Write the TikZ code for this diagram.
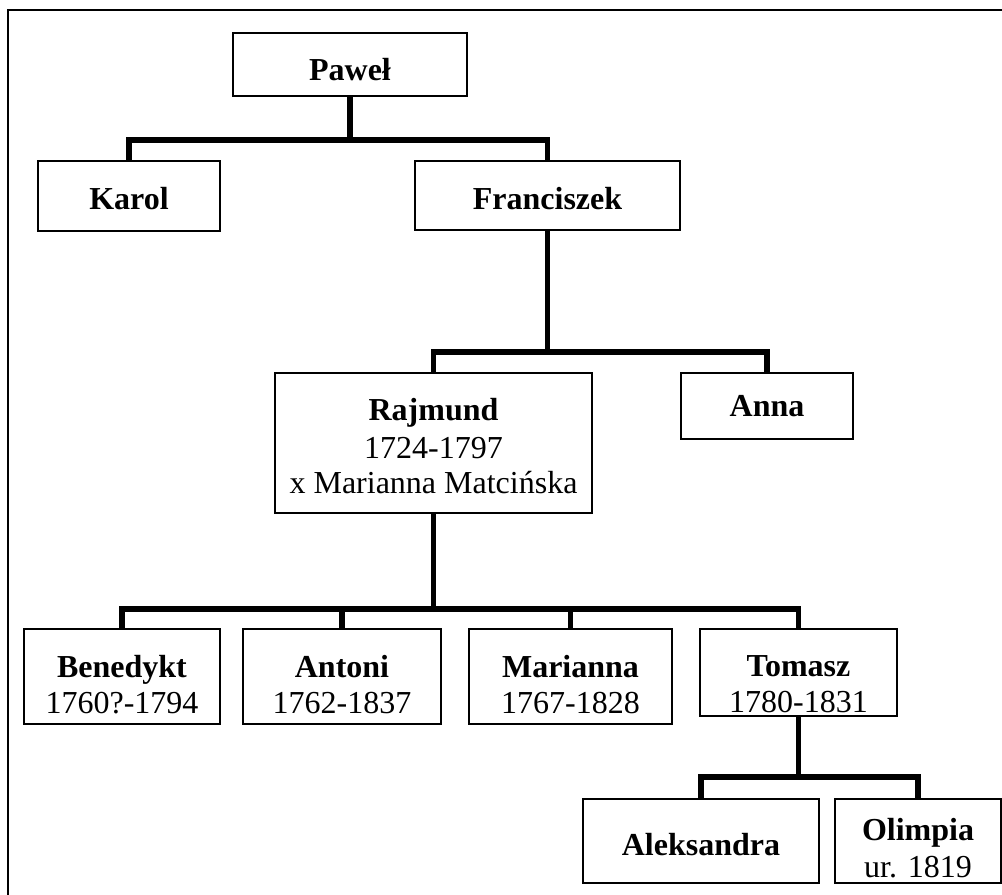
\documentclass[tikz,border=0pt]{standalone}
\usepackage{fontspec}
\setmainfont{Liberation Serif}
\begin{document}
\begin{tikzpicture}[x=0.75pt,y=-0.75pt,
  box/.style={draw, rectangle, line width=1.1pt, inner sep=0pt, outer sep=0pt},
  nm/.style={anchor=base, inner sep=0pt, font=\fontsize{24pt}{27pt}\selectfont\bfseries},
  yr/.style={anchor=base, inner sep=0pt, font=\fontsize{24pt}{27pt}\selectfont},
  conn/.style={line width=4pt, line join=miter, line cap=butt}]
\useasboundingbox (0,0) rectangle (1002,895);
\clip (0,0) rectangle (1002,895);
\draw[line width=1.2pt] (8,10) rectangle (1020,915);

% boxes
\node[box, minimum width=175.5pt, minimum height=47.25pt] (pawel) at (350,64.5) {};
\node[box, minimum width=136.5pt, minimum height=52.5pt] (karol) at (129,196) {};
\node[box, minimum width=198.75pt, minimum height=51.75pt] (franc) at (547.5,195.5) {};
\node[box, minimum width=237.75pt, minimum height=105pt] (rajmund) at (433.5,443) {};
\node[box, minimum width=129pt, minimum height=49.5pt] (anna) at (767,406) {};
\node[box, minimum width=147pt, minimum height=71.25pt] (bened) at (122,676.5) {};
\node[box, minimum width=148.5pt, minimum height=71.25pt] (antoni) at (342,676.5) {};
\node[box, minimum width=152.25pt, minimum height=71.25pt] (marianna) at (570.5,676.5) {};
\node[box, minimum width=147.75pt, minimum height=65.25pt] (tomasz) at (798.5,672.5) {};
\node[box, minimum width=177pt, minimum height=63pt] (aleks) at (701,841) {};
\node[box, minimum width=124.5pt, minimum height=63pt] (olimpia) at (918,841) {};

% texts
\node[nm] (pawel-t) at (350,81) {Paweł};
\node[nm] (karol-t) at (129,209) {Karol};
\node[nm] (franc-t) at (547.5,209) {Franciszek};
\node[nm] (rajmund-t) at (433.5,420) {Rajmund};
\node[yr] (rajmund-y) at (433.5,458) {1724-1797};
\node[yr] (rajmund-m) at (433.5,493) {x Marianna Matcińska};
\node[nm] (anna-t) at (767,416) {Anna};
\node[nm] (bened-t) at (122,677) {Benedykt};
\node[yr] (bened-y) at (122,713) {1760?-1794};
\node[nm] (antoni-t) at (342,677) {Antoni};
\node[yr] (antoni-y) at (342,713) {1762-1837};
\node[nm] (marianna-t) at (570.5,677) {Marianna};
\node[yr] (marianna-y) at (570.5,713) {1767-1828};
\node[nm] (tomasz-t) at (798.5,676) {Tomasz};
\node[yr] (tomasz-y) at (798.5,712) {1780-1831};
\node[nm] (aleks-t) at (701,855) {Aleksandra};
\node[nm] (olimpia-t) at (918,840) {Olimpia};
\node[yr] (olimpia-y) at (918,877) {ur. 1819};

% bar levels
\coordinate (b1) at (350,140);
\coordinate (b2) at (547.5,352);
\coordinate (b3) at (433.5,609);
\coordinate (b4) at (798.5,777);

% connectors
\draw[conn] (karol.north) |- (b1) -| (franc.north);
\draw[conn] (pawel.south) -- (b1);
\draw[conn] (rajmund.north) |- (b2) -| (anna.north);
\draw[conn] (franc.south) -- (b2);
\draw[conn] (bened.north) |- (b3) -| (tomasz.north);
\draw[conn] (rajmund.south) -- (b3);
\draw[conn] (antoni.north) -- (antoni.north |- b3);
\draw[conn] (marianna.north) -- (marianna.north |- b3);
\draw[conn] (aleks.north) |- (b4) -| (olimpia.north);
\draw[conn] (tomasz.south) -- (b4);
\end{tikzpicture}
\end{document}
